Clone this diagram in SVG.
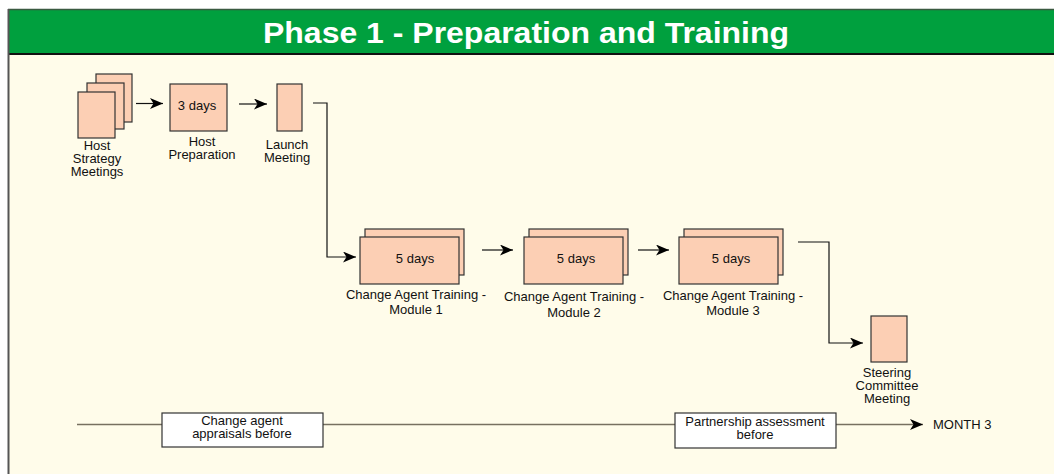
<svg xmlns="http://www.w3.org/2000/svg" width="1054" height="474" viewBox="0 0 1054 474">
<style>
.box{fill:#FCCFB4;stroke:#333;stroke-width:1.2}
.lbl{font-family:"Liberation Sans",Arial,sans-serif;font-size:13px;fill:#111;text-anchor:middle}
.con{fill:none;stroke:#111;stroke-width:1.2}
.tl{fill:none;stroke:#777060;stroke-width:1.5}
.wbox{fill:#fff;stroke:#333;stroke-width:1.2}
</style>
<defs>
<marker id="ah" markerWidth="14" markerHeight="12" refX="13" refY="5.5" orient="auto" markerUnits="userSpaceOnUse">
<path d="M0,0 L13,5.5 L0,11 L3.5,5.5 z" fill="#000"/>
</marker>
</defs>
<rect x="0" y="0" width="1054" height="474" fill="#fff"/>
<rect x="8" y="54" width="1046" height="420" fill="#FFFCEA"/>
<rect x="8" y="9" width="1046" height="45" fill="#00A03E"/>
<line x1="8" y1="9.5" x2="1054" y2="9.5" stroke="#3a5a40" stroke-width="1.5"/>
<line x1="8" y1="54" x2="1054" y2="54" stroke="#111" stroke-width="2"/>
<line x1="8.5" y1="9" x2="8.5" y2="474" stroke="#555" stroke-width="2"/>
<text x="526" y="43" font-family="'Liberation Sans',Arial,sans-serif" font-size="29" font-weight="bold" fill="#fff" text-anchor="middle" textLength="526" lengthAdjust="spacingAndGlyphs">Phase 1 - Preparation and Training</text>

<g id="connectors">
<line class="con" x1="136" y1="103.5" x2="163" y2="103.5" marker-end="url(#ah)"/>
<line class="con" x1="239" y1="104" x2="267" y2="104" marker-end="url(#ah)"/>
<polyline class="con" points="313,103 327,103 327,257 356,257" marker-end="url(#ah)"/>
<line class="con" x1="482" y1="250" x2="513" y2="250" marker-end="url(#ah)"/>
<line class="con" x1="638" y1="250" x2="669" y2="250" marker-end="url(#ah)"/>
<polyline class="con" points="798,242 829,242 829,343 863,343" marker-end="url(#ah)"/>
</g>

<g id="host-strategy">
<rect class="box" x="96" y="74" width="36" height="48"/>
<rect class="box" x="87" y="83" width="37" height="46"/>
<rect class="box" x="78" y="92" width="37" height="46"/>
<text class="lbl" x="97" y="150">Host</text>
<text class="lbl" x="97" y="163">Strategy</text>
<text class="lbl" x="97" y="176">Meetings</text>
</g>

<g id="host-prep">
<rect class="box" x="170" y="84" width="57" height="47"/>
<text class="lbl" x="197" y="110">3 days</text>
<text class="lbl" x="202" y="146">Host</text>
<text class="lbl" x="202" y="159">Preparation</text>
</g>

<g id="launch">
<rect class="box" x="277" y="84" width="25" height="47"/>
<text class="lbl" x="287" y="149">Launch</text>
<text class="lbl" x="287" y="162">Meeting</text>
</g>

<g id="module1">
<rect class="box" x="365" y="229" width="99" height="46"/>
<rect class="box" x="360" y="237" width="99" height="47"/>
<text class="lbl" x="415" y="263">5 days</text>
<text class="lbl" x="416" y="299">Change Agent Training -</text>
<text class="lbl" x="416" y="314">Module 1</text>
</g>

<g id="module2">
<rect class="box" x="529" y="229" width="99" height="46"/>
<rect class="box" x="524" y="237" width="99" height="47"/>
<text class="lbl" x="576" y="263">5 days</text>
<text class="lbl" x="574" y="301">Change Agent Training -</text>
<text class="lbl" x="574" y="317">Module 2</text>
</g>

<g id="module3">
<rect class="box" x="684" y="229" width="99" height="46"/>
<rect class="box" x="679" y="237" width="99" height="47"/>
<text class="lbl" x="731" y="263">5 days</text>
<text class="lbl" x="733" y="300">Change Agent Training -</text>
<text class="lbl" x="733" y="315">Module 3</text>
</g>

<g id="steering">
<rect class="box" x="871" y="316" width="36" height="46"/>
<text class="lbl" x="887" y="377">Steering</text>
<text class="lbl" x="887" y="390">Committee</text>
<text class="lbl" x="887" y="403">Meeting</text>
</g>

<g id="timeline">
<line class="tl" x1="77" y1="424.5" x2="923" y2="424.5" marker-end="url(#ah)"/>
<text x="933" y="429" font-family="'Liberation Sans',Arial,sans-serif" font-size="13" fill="#111">MONTH 3</text>
</g>

<g id="appraisals">
<rect class="wbox" x="162" y="413" width="161" height="34"/>
<text class="lbl" x="242" y="425">Change agent</text>
<text class="lbl" x="242" y="438">appraisals before</text>
</g>

<g id="partnership">
<rect class="wbox" x="675" y="413" width="161" height="35"/>
<text class="lbl" x="755" y="426">Partnership assessment</text>
<text class="lbl" x="755" y="439">before</text>
</g>
</svg>
